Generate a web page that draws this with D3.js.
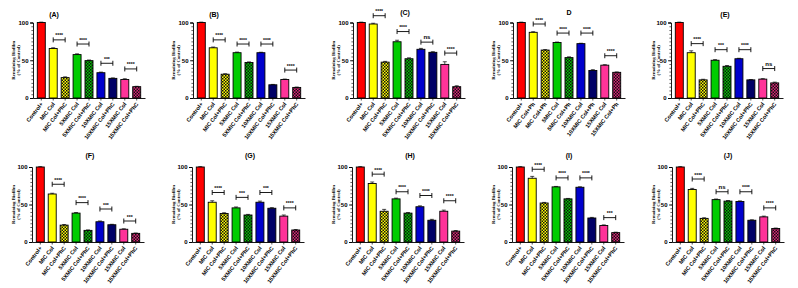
<!DOCTYPE html>
<meta charset="utf-8">
<style>
body { margin: 0; background: #fff; }
svg { display: block; }
.lab { font-family: 'Liberation Sans', Arial, sans-serif; font-weight: bold; fill: #000; }
.ylab { font-family: 'Liberation Serif', 'Times New Roman', serif; font-weight: bold; fill: #000; }
</style>
<svg width="798" height="288"></svg>
<script src="https://d3js.org/d3.v7.min.js"></script>
<script>

// ---- data ----
var titles = ["(A)", "(B)", "(C)", "D", "(E)", "(F)", "(G)", "(H)", "(I)", "(J)"];

var categories = ["Control+", "MIC Col", "MIC Col+PhC", "5XMIC Col", "5XMIC Col+PhC",
                  "10XMIC Col", "10XMIC Col+PhC", "15XMIC Col", "15XMIC Col+PhC"];
var categoriesD = ["Control+", "MIC Col+Ph", "MIC Col+Ph", "5MIC Col", "5MIC Col+Ph",
                   "10XMIC Col", "10XMIC Col+Ph", "15XMIC Col", "15XMIC Col+Ph"];

var meanA = [100, 65.5, 27, 57.5, 49.5, 33.5, 26, 24.5, 15];
var meanB = [100, 66.5, 31.5, 60, 47, 60, 17.5, 24.5, 14];
var meanC = [100, 98, 47.5, 74.5, 52, 64.5, 60.5, 44.5, 15];
var meanD = [100, 87, 63.5, 73.5, 53.5, 72, 36.5, 43.5, 34];
var meanE = [100, 60, 24, 50, 42, 52, 24, 25, 20];
var meanF = [100, 64, 22.5, 38.5, 15.5, 27, 23, 17, 11.5];
var meanG = [100, 53, 38, 45.5, 36, 53, 45, 34.5, 16];
var meanH = [100, 78, 41, 57.5, 38.5, 47, 29, 41, 14.5];
var meanI = [100, 85, 52, 73.5, 57.5, 73, 32, 22, 12.5];
var meanJ = [100, 70, 31.5, 56.5, 54.5, 54, 29, 33.5, 18];

var errA = [0.5, 1, 1, 1, 0.8, 0.8, 0.6, 1, 0.5];
var errB = [0.5, 1, 0.6, 0.8, 0.8, 0.6, 0.5, 0.6, 0.5];
var errC = [0.5, 1, 1, 2, 1.2, 1.2, 0.8, 3.5, 1.2];
var errD = [0.5, 0.8, 0.6, 0.6, 1, 0.5, 1, 0.6, 0.5];
var errE = [0.5, 2.5, 0.8, 0.8, 1, 0.6, 0.5, 0.6, 1];
var errF = [0.5, 1, 0.8, 0.8, 0.6, 1, 0.6, 0.6, 0.5];
var errG = [0.5, 2, 1, 1.2, 0.8, 1.5, 0.8, 1.5, 0.6];
var errH = [0.5, 2, 2.5, 1, 0.8, 1.2, 1.2, 1.5, 0.8];
var errI = [0.5, 2.5, 0.8, 0.6, 0.6, 0.6, 0.8, 0.8, 0.6];
var errJ = [0.5, 1.5, 0.8, 0.8, 0.8, 0.8, 0.6, 1, 0.6];

// significance labels and bracket heights for pairs (1,2) (3,4) (5,6) (7,8)
var sigA = ["****", "****", "***", "****"],  barA = [77, 71.5, 46, 38.5];
var sigB = ["****", "****", "****", "****"], barB = [77, 71.5, 71.5, 37];
var sigC = ["****", "****", "ns", "****"],   barC = [109, 88, 74, 59.5];
var sigD = ["****", "****", "****", "****"], barD = [98, 86, 86, 56];
var sigE = ["****", "***", "****", "ns"],    barE = [72, 64, 64, 39];
var sigF = ["****", "****", "***", "***"],   barF = [77, 52.5, 44, 28];
var sigG = ["****", "***", "***", "****"],   barG = [66, 59.5, 66, 45.5];
var sigH = ["****", "****", "****", "****"], barH = [90.5, 67, 62, 55];
var sigI = ["****", "****", "****", "***"],  barI = [97, 85.5, 85.5, 32.5];
var sigJ = ["****", "ns", "****", "****"],   barJ = [84, 67, 67, 45.5];

var yTicks = [0, 50, 100];

// ---- layout ----
var means = [meanA, meanB, meanC, meanD, meanE, meanF, meanG, meanH, meanI, meanJ];
var errs = [errA, errB, errC, errD, errE, errF, errG, errH, errI, errJ];
var sigs = [sigA, sigB, sigC, sigD, sigE, sigF, sigG, sigH, sigI, sigJ];
var brackets = [barA, barB, barC, barD, barE, barF, barG, barH, barI, barJ];

var axisX = [33, 33, 33, 33, 31, 32, 32, 32, 32, 32];
var titleX = [54, 54, 85, 89, 85, 90, 90, 90, 89, 88];
var titleY = [16.5, 16.5, 14.5, 14.5, 16.5, 157.5, 157.5, 157.5, 157.5, 157.5];
var rowY = [[98, 22.5], [242, 167]];

var fills = ["#ff0000", "#ffff00", "url(#pYellow)", "#00cc00", "url(#pGreen)",
             "#0000cc", "#000066", "#ff3399", "url(#pPink)"];

var svg = d3.select("svg");
var defs = svg.append("defs");

function checker(id, base) {
    var p = defs.append("pattern")
        .attr("id", id)
        .attr("patternUnits", "userSpaceOnUse")
        .attr("width", 3).attr("height", 3);
    p.append("rect").attr("width", 3).attr("height", 3).attr("fill", base);
    p.append("rect").attr("width", 1.5).attr("height", 1.5).attr("fill", "#111");
    p.append("rect").attr("x", 1.5).attr("y", 1.5).attr("width", 1.5).attr("height", 1.5).attr("fill", "#111");
}
checker("pYellow", "#ffff00");
checker("pGreen", "#00cc00");
checker("pPink", "#dd2277");

means.forEach(function(vals, p) {
    var col = p % 5, row = Math.floor(p / 5);
    var ox = col * 160 + axisX[p];
    var cats = p === 3 ? categoriesD : categories;
    var g = svg.append("g");

    var x = d3.scaleBand()
        .domain(d3.range(cats.length))
        .range([ox, ox + 112])
        .paddingInner(0.33)
        .paddingOuter(0.36);

    var y = d3.scaleLinear()
        .domain([0, 100])
        .range(rowY[row]);

    // title
    g.append("text")
        .attr("class", "lab")
        .attr("x", col * 160 + titleX[p])
        .attr("y", titleY[p])
        .attr("text-anchor", "middle")
        .style("font-size", "7px")
        .text(titles[p]);

    // y axis label
    var ymid = (y(0) + y(100)) / 2;
    g.append("text")
        .attr("class", "ylab")
        .attr("transform", "translate(" + (col * 160 + 14.5) + "," + ymid + ") rotate(-90)")
        .attr("text-anchor", "middle")
        .style("font-size", "4.8px")
        .text("Remaining Biofilm");
    g.append("text")
        .attr("class", "ylab")
        .attr("transform", "translate(" + (col * 160 + 20) + "," + ymid + ") rotate(-90)")
        .attr("text-anchor", "middle")
        .style("font-size", "4.8px")
        .text("(% of Control)");

    // bars
    g.selectAll("rect.bar")
        .data(vals)
        .enter().append("rect")
        .attr("class", "bar")
        .attr("x", function(d, i) { return x(i); })
        .attr("y", function(d) { return y(d); })
        .attr("width", x.bandwidth())
        .attr("height", function(d) { return y(0) - y(d); })
        .attr("fill", function(d, i) { return fills[i]; })
        .attr("stroke", "#000")
        .attr("stroke-width", 0.9);

    // error bars (upper only)
    var e = errs[p];
    vals.forEach(function(d, i) {
        var cx = x(i) + x.bandwidth() / 2;
        g.append("line")
            .attr("x1", cx).attr("x2", cx)
            .attr("y1", y(d)).attr("y2", y(d + e[i]))
            .attr("stroke", "#000").attr("stroke-width", 0.7);
        g.append("line")
            .attr("x1", cx - 2).attr("x2", cx + 2)
            .attr("y1", y(d + e[i])).attr("y2", y(d + e[i]))
            .attr("stroke", "#000").attr("stroke-width", 0.7);
    });

    // y axis with minor ticks
    var yAxis = g.append("g")
        .attr("transform", "translate(" + ox + ",0)")
        .call(d3.axisLeft(y).tickValues(yTicks).tickSize(3).tickPadding(1.5));
    yAxis.select(".domain").attr("stroke-width", 0.9);
    yAxis.selectAll("text")
        .attr("class", "lab")
        .style("font-size", "6px");
    yAxis.selectAll("line").attr("stroke-width", 0.8);
    g.append("g")
        .attr("transform", "translate(" + ox + ",0)")
        .call(d3.axisLeft(y).tickValues(d3.range(0, 101, 5)).tickSize(1.6).tickFormat(""))
        .call(function(s) { s.select(".domain").remove(); })
        .selectAll("line").attr("stroke-width", 0.6);

    // x axis
    var xAxis = g.append("g")
        .attr("transform", "translate(0," + y(0) + ")")
        .call(d3.axisBottom(x).tickSize(2.5).tickSizeOuter(0).tickFormat(""));
    xAxis.select(".domain").attr("stroke-width", 0.9);
    xAxis.selectAll("line").attr("stroke-width", 0.7);

    g.selectAll("text.cat")
        .data(cats)
        .enter().append("text")
        .attr("class", "lab cat")
        .attr("text-anchor", "end")
        .style("font-size", "5.6px")
        .attr("transform", function(d, i) {
            return "translate(" + (x(i) + x.bandwidth() / 2 + 0.5) + "," + (y(0) + 5) + ") rotate(-52)";
        })
        .attr("dy", "0.35em")
        .text(function(d) { return d; });

    // significance brackets
    var b = brackets[p];
    sigs[p].forEach(function(s, k) {
        var i1 = 2 * k + 1, i2 = 2 * k + 2;
        var x1 = x(i1) + x.bandwidth() / 2, x2 = x(i2) + x.bandwidth() / 2;
        var by = y(b[k]);
        g.append("path")
            .attr("d", "M" + x1 + "," + (by - 2.5) + "V" + (by + 2.5) +
                       "M" + x1 + "," + by + "H" + x2 +
                       "M" + x2 + "," + (by - 2.5) + "V" + (by + 2.5))
            .attr("fill", "none")
            .attr("stroke", "#000")
            .attr("stroke-width", 0.9);
        g.append("text")
            .attr("class", "lab")
            .attr("x", (x1 + x2) / 2)
            .attr("y", by - (s === "ns" ? 3 : 2.5))
            .attr("text-anchor", "middle")
            .style("font-size", s === "ns" ? "6px" : "5px")
            .text(s);
    });
});

</script>
